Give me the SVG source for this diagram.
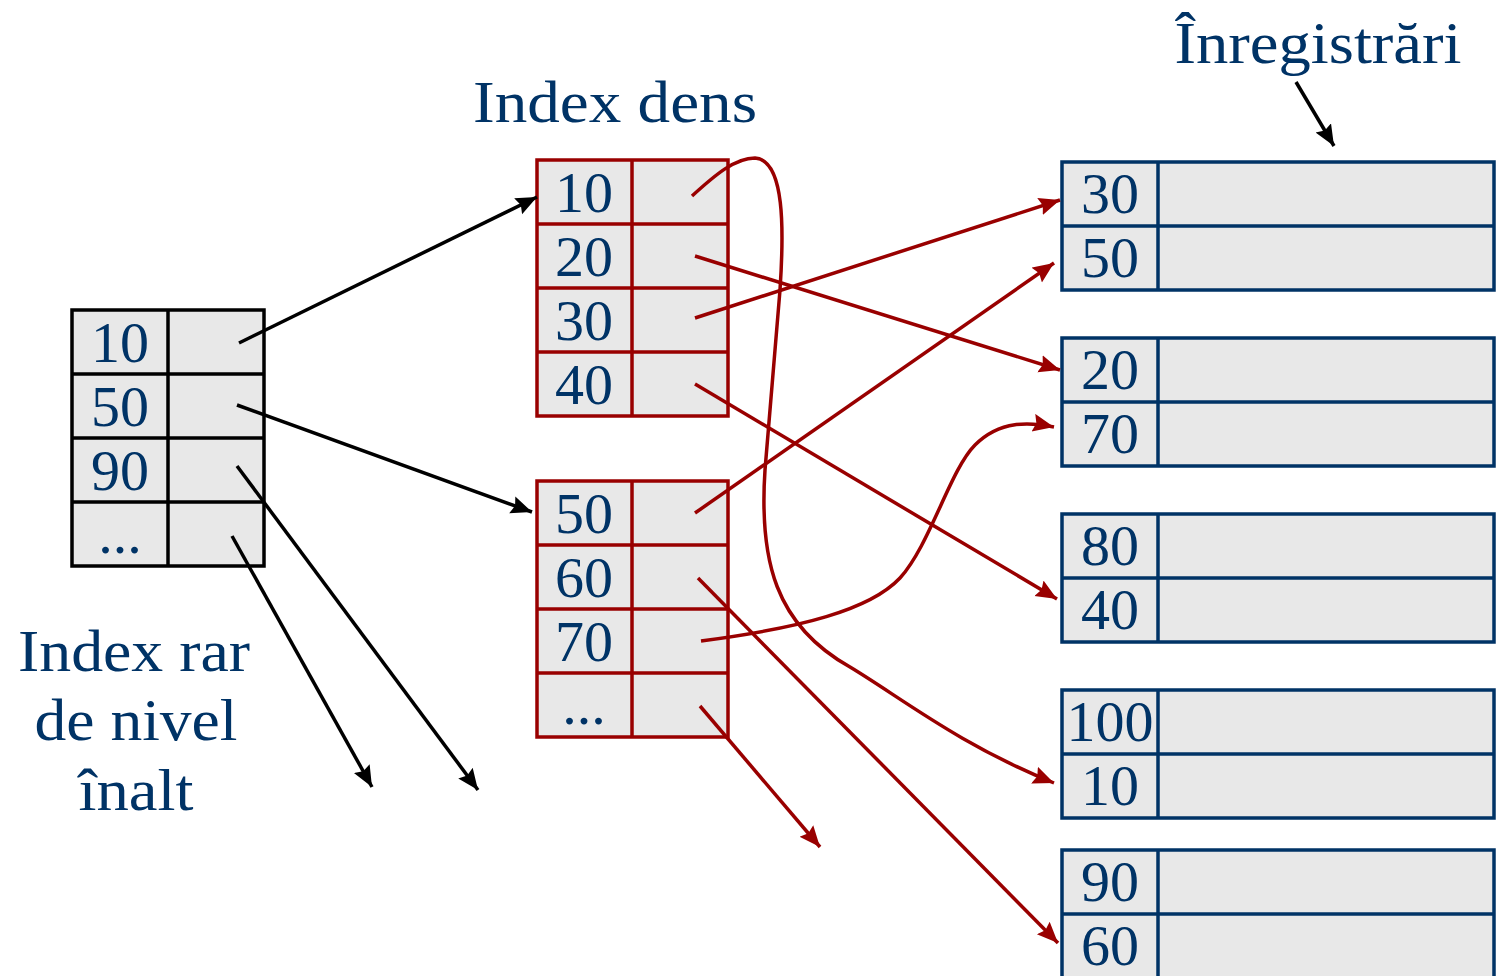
<svg xmlns="http://www.w3.org/2000/svg" width="1496" height="976" viewBox="0 0 1496 976">
<style>
.cell{fill:#e8e8e8;}
.blk{stroke:#000;stroke-width:3.5;fill:none;}
.red{stroke:#990000;stroke-width:3.5;fill:none;}
.blu{stroke:#003366;stroke-width:3.5;fill:none;}
.num{font-family:"Liberation Serif",serif;font-size:58px;fill:#003366;text-anchor:middle;}
.lbl{font-family:"Liberation Serif",serif;font-size:60px;fill:#003366;text-anchor:middle;}
.ab{stroke:#000;stroke-width:3.5;fill:none;}
.ar{stroke:#990000;stroke-width:3.5;fill:none;}
</style>
<defs>
<marker id="mb" markerUnits="userSpaceOnUse" markerWidth="24" markerHeight="20" refX="21" refY="9" orient="auto"><path d="M0,0 L21,9 L0,18 L3,9 z" fill="#000"/></marker>
<marker id="mr" markerUnits="userSpaceOnUse" markerWidth="24" markerHeight="20" refX="21" refY="9" orient="auto"><path d="M0,0 L21,9 L0,18 L3,9 z" fill="#990000"/></marker>
</defs>
<rect width="1496" height="976" fill="#fff"/>

<g id="sparse-index">
<rect class="cell" x="72" y="310" width="192" height="256"/>
<g class="blk"><rect x="72" y="310" width="192" height="256"/><line x1="168" y1="310" x2="168" y2="566"/><line x1="72" y1="374" x2="264" y2="374"/><line x1="72" y1="438" x2="264" y2="438"/><line x1="72" y1="502" x2="264" y2="502"/></g>
<text class="num" x="120" y="362">10</text><text class="num" x="120" y="426">50</text><text class="num" x="120" y="490">90</text><text class="num" x="120" y="553">...</text>
</g>

<g id="dense-index-1">
<rect class="cell" x="537" y="160" width="191" height="256"/>
<g class="red"><rect x="537" y="160" width="191" height="256"/><line x1="632" y1="160" x2="632" y2="416"/><line x1="537" y1="224" x2="728" y2="224"/><line x1="537" y1="288" x2="728" y2="288"/><line x1="537" y1="352" x2="728" y2="352"/></g>
<text class="num" x="584" y="212">10</text><text class="num" x="584" y="276">20</text><text class="num" x="584" y="340">30</text><text class="num" x="584" y="404">40</text>
</g>

<g id="dense-index-2">
<rect class="cell" x="537" y="481" width="191" height="256"/>
<g class="red"><rect x="537" y="481" width="191" height="256"/><line x1="632" y1="481" x2="632" y2="737"/><line x1="537" y1="545" x2="728" y2="545"/><line x1="537" y1="609" x2="728" y2="609"/><line x1="537" y1="673" x2="728" y2="673"/></g>
<text class="num" x="584" y="533">50</text><text class="num" x="584" y="597">60</text><text class="num" x="584" y="661">70</text><text class="num" x="584" y="724">...</text>
</g>

<g id="records-1">
<rect class="cell" x="1062" y="162" width="432" height="128"/>
<g class="blu"><rect x="1062" y="162" width="432" height="128"/><line x1="1158" y1="162" x2="1158" y2="290"/><line x1="1062" y1="226" x2="1494" y2="226"/></g>
<text class="num" x="1110" y="213">30</text><text class="num" x="1110" y="277">50</text>
</g>
<g id="records-2">
<rect class="cell" x="1062" y="338" width="432" height="128"/>
<g class="blu"><rect x="1062" y="338" width="432" height="128"/><line x1="1158" y1="338" x2="1158" y2="466"/><line x1="1062" y1="402" x2="1494" y2="402"/></g>
<text class="num" x="1110" y="389">20</text><text class="num" x="1110" y="453">70</text>
</g>
<g id="records-3">
<rect class="cell" x="1062" y="514" width="432" height="128"/>
<g class="blu"><rect x="1062" y="514" width="432" height="128"/><line x1="1158" y1="514" x2="1158" y2="642"/><line x1="1062" y1="578" x2="1494" y2="578"/></g>
<text class="num" x="1110" y="565">80</text><text class="num" x="1110" y="629">40</text>
</g>
<g id="records-4">
<rect class="cell" x="1062" y="690" width="432" height="128"/>
<g class="blu"><rect x="1062" y="690" width="432" height="128"/><line x1="1158" y1="690" x2="1158" y2="818"/><line x1="1062" y1="754" x2="1494" y2="754"/></g>
<text class="num" x="1110" y="741">100</text><text class="num" x="1110" y="805">10</text>
</g>
<g id="records-5">
<rect class="cell" x="1062" y="850" width="432" height="130"/>
<g class="blu"><rect x="1062" y="850" width="432" height="130"/><line x1="1158" y1="850" x2="1158" y2="980"/><line x1="1062" y1="914" x2="1494" y2="914"/></g>
<text class="num" x="1110" y="901">90</text><text class="num" x="1110" y="965">60</text>
</g>

<g id="labels">
<text class="lbl" x="615" y="122" textLength="284" lengthAdjust="spacingAndGlyphs">Index dens</text>
<text class="lbl" x="1318" y="63" textLength="287" lengthAdjust="spacingAndGlyphs">Înregistrări</text>
<text class="lbl" x="134" y="671" textLength="232" lengthAdjust="spacingAndGlyphs">Index rar</text>
<text class="lbl" x="136" y="740" textLength="203" lengthAdjust="spacingAndGlyphs">de nivel</text>
<text class="lbl" x="136" y="810" textLength="115" lengthAdjust="spacingAndGlyphs">înalt</text>
</g>

<g id="connectors">
<line class="ab" x1="239" y1="343" x2="537" y2="197" marker-end="url(#mb)"/>
<line class="ab" x1="237" y1="405" x2="532" y2="512" marker-end="url(#mb)"/>
<line class="ab" x1="237" y1="466" x2="478" y2="790" marker-end="url(#mb)"/>
<line class="ab" x1="232" y1="536" x2="372" y2="787" marker-end="url(#mb)"/>
<line class="ab" x1="1296" y1="82" x2="1334" y2="146" marker-end="url(#mb)"/>

<path class="ar" d="M692,196 C715,175 735,158 755,158 C785,160 784,230 780,290 L765,470 C759,560 775,625 850,667 C900,697 960,745 1054,783" marker-end="url(#mr)"/>
<line class="ar" x1="695" y1="256" x2="1060" y2="370" marker-end="url(#mr)"/>
<line class="ar" x1="695" y1="318" x2="1060" y2="200" marker-end="url(#mr)"/>
<line class="ar" x1="695" y1="384" x2="1057" y2="599" marker-end="url(#mr)"/>
<line class="ar" x1="695" y1="513" x2="1054" y2="263" marker-end="url(#mr)"/>
<line class="ar" x1="698" y1="578" x2="1058" y2="943" marker-end="url(#mr)"/>
<path class="ar" d="M701,641 C800,628 870,610 900,578 C930,545 950,470 975,445 C1000,420 1030,422 1054,427" marker-end="url(#mr)"/>
<line class="ar" x1="700" y1="706" x2="820" y2="847" marker-end="url(#mr)"/>
</g>
</svg>
